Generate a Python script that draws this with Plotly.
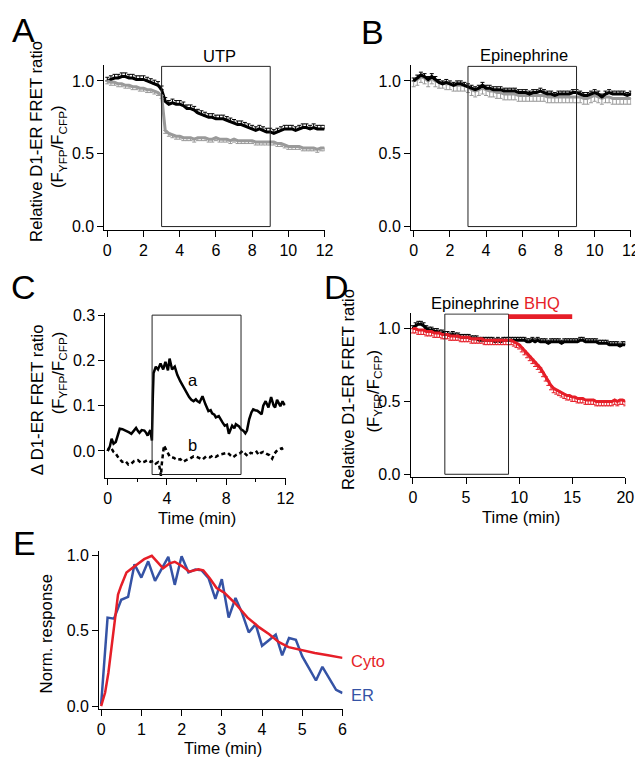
import plotly.graph_objects as go

W, H = 643, 757
FONT = "Liberation Sans, Arial, Helvetica, sans-serif"
RED = "#e61e28"
BLUE = "#3553a5"
GRAY = "#9a9a9a"

# ---------------- data ----------------
# Panel A (UTP), sampled every 0.2 min
A_TIME = [round(i * 0.2, 1) for i in range(61)]
A_BLACK = [1.00, 1.01, 1.02, 1.02, 1.03, 1.03, 1.02, 1.02, 1.01, 1.01,
           1.01, 1.00, 0.99, 0.98, 0.97, 0.94, 0.86, 0.84, 0.85, 0.84,
           0.84, 0.83, 0.81, 0.81, 0.80, 0.78, 0.77, 0.76, 0.75, 0.75,
           0.74, 0.74, 0.74, 0.73, 0.72, 0.71, 0.70, 0.70, 0.69, 0.68,
           0.67, 0.66, 0.67, 0.66, 0.65, 0.65, 0.64, 0.65, 0.66, 0.67,
           0.67, 0.67, 0.66, 0.67, 0.68, 0.68, 0.67, 0.68, 0.67, 0.67,
           0.67]
A_GRAY = [1.00, 0.99, 0.99, 0.98, 0.98, 0.97, 0.97, 0.96, 0.96, 0.95,
          0.95, 0.94, 0.94, 0.93, 0.92, 0.90, 0.66, 0.64, 0.63, 0.62,
          0.62, 0.61, 0.61, 0.61, 0.60, 0.61, 0.61, 0.61, 0.60, 0.60,
          0.61, 0.60, 0.60, 0.60, 0.59, 0.60, 0.59, 0.59, 0.59, 0.59,
          0.59, 0.58, 0.58, 0.58, 0.58, 0.58, 0.58, 0.57, 0.57, 0.56,
          0.55, 0.55, 0.55, 0.55, 0.54, 0.54, 0.54, 0.54, 0.53, 0.54,
          0.54]
A_BLACK_ERR = 0.025
A_GRAY_ERR = 0.02

# Panel B (Epinephrine), sampled every 0.2 min
B_TIME = [round(i * 0.2, 1) for i in range(61)]
B_BLACK = [1.00, 1.02, 1.04, 1.03, 1.01, 1.03, 1.01, 0.99, 0.98, 0.99,
           0.98, 0.97, 0.98, 0.98, 0.97, 0.96, 0.95, 0.94, 0.95, 0.97,
           0.95, 0.95, 0.94, 0.94, 0.94, 0.93, 0.93, 0.93, 0.93, 0.92,
           0.92, 0.92, 0.91, 0.92, 0.92, 0.93, 0.92, 0.91, 0.91, 0.90,
           0.91, 0.91, 0.91, 0.91, 0.92, 0.92, 0.91, 0.90, 0.90, 0.91,
           0.92, 0.91, 0.89, 0.91, 0.92, 0.91, 0.91, 0.91, 0.91, 0.90,
           0.91]
B_GRAY = [1.00, 1.01, 1.03, 1.02, 1.00, 1.02, 1.00, 0.99, 0.99, 0.98,
          0.98, 0.97, 0.97, 0.97, 0.97, 0.96, 0.94, 0.93, 0.94, 0.95,
          0.94, 0.93, 0.93, 0.92, 0.92, 0.91, 0.91, 0.91, 0.91, 0.90,
          0.90, 0.90, 0.90, 0.90, 0.90, 0.90, 0.90, 0.89, 0.89, 0.89,
          0.89, 0.89, 0.89, 0.89, 0.89, 0.89, 0.89, 0.88, 0.88, 0.89,
          0.90, 0.89, 0.88, 0.89, 0.89, 0.88, 0.88, 0.88, 0.88, 0.88,
          0.88]
B_BLACK_ERR = 0.02
B_GRAY_ERR = 0.04

# Panel C (delta FRET traces a and b)
C_A_TIME = [0, 0.15, 0.27, 0.4, 0.55, 0.7, 0.82, 1.0, 1.15, 1.3, 1.45, 1.6, 1.75,
            1.92, 2.05, 2.15, 2.3, 2.48, 2.6, 2.7, 2.88, 2.99, 3.05, 3.1, 3.25,
            3.4, 3.57, 3.75, 3.9, 4.07, 4.18, 4.35, 4.53, 4.7, 4.9, 5.05, 5.2,
            5.35, 5.5, 5.65, 5.8, 5.95, 6.05, 6.2, 6.4, 6.6, 6.8, 6.95, 7.05,
            7.2, 7.3, 7.5, 7.6, 7.75, 7.9, 8.05, 8.18, 8.3, 8.4, 8.55, 8.65,
            8.87, 9.0, 9.15, 9.29, 9.4, 9.55, 9.7, 9.82, 9.95, 10.1, 10.25,
            10.39, 10.5, 10.66, 10.85, 11.03, 11.2, 11.3, 11.43, 11.55, 11.65,
            11.8, 11.9, 12.0]
C_A_VAL = [0.0, 0.01, 0.027, 0.016, 0.02, 0.04, 0.049, 0.048, 0.046, 0.044,
           0.041, 0.038, 0.045, 0.051, 0.044, 0.04, 0.046, 0.045, 0.04, 0.034,
           0.046, 0.023, 0.12, 0.172, 0.186, 0.18, 0.193, 0.18, 0.197, 0.178,
           0.204, 0.18, 0.186, 0.168, 0.154, 0.145, 0.135, 0.126, 0.119, 0.113,
           0.11, 0.114, 0.11, 0.107, 0.121, 0.103, 0.088, 0.09, 0.083, 0.08,
           0.074, 0.077, 0.07, 0.063, 0.056, 0.058, 0.038, 0.05, 0.056, 0.05,
           0.059, 0.054, 0.048, 0.045, 0.039, 0.045, 0.07, 0.085, 0.092, 0.09,
           0.089, 0.085, 0.081, 0.1, 0.11, 0.096, 0.119, 0.1, 0.096, 0.113,
           0.105, 0.099, 0.11, 0.103, 0.104]
C_B_TIME = [0, 0.12, 0.25, 0.4, 0.55, 0.75, 0.99, 1.2, 1.4, 1.6, 1.8, 2.04, 2.25,
            2.48, 2.7, 2.9, 3.1, 3.25, 3.4, 3.5, 3.6, 3.65, 3.8, 3.9, 4.0, 4.2,
            4.45, 4.7, 4.9, 5.1, 5.3, 5.55, 5.8, 6.0, 6.2, 6.4, 6.65, 6.9, 7.1,
            7.3, 7.55, 7.8, 8.1, 8.3, 8.45, 8.7, 8.9, 9.1, 9.25, 9.44, 9.65,
            9.88, 10.05, 10.2, 10.35, 10.5, 10.7, 10.9, 11.1, 11.25, 11.4,
            11.55, 11.75, 11.85, 11.95]
C_B_VAL = [0.0, 0.008, 0.006, -0.002, -0.006, -0.016, -0.024, -0.022, -0.03,
           -0.028, -0.022, -0.02, -0.026, -0.024, -0.02, -0.024, -0.022, -0.028,
           -0.025, -0.035, -0.055, -0.03, 0.012, 0.005, 0.001, -0.013, -0.015,
           -0.02, -0.018, -0.024, -0.02, -0.017, -0.012, -0.013, -0.016, -0.019,
           -0.012, -0.014, -0.01, -0.013, -0.008, -0.006, -0.004, -0.01, -0.014,
           -0.008, -0.006, 0.0, -0.006, -0.011, -0.004, -0.006, -0.002, -0.009,
           -0.004, -0.002, -0.006, -0.009, -0.017, -0.006, 0.0, 0.004, 0.006,
           0.0, 0.002]

# Panel D (Epinephrine then BHQ), sampled every 0.25 min
D_TIME = [i * 0.25 for i in range(81)]
D_BLACK = [1.00, 1.02, 1.03, 1.03, 1.02, 1.00, 0.99, 0.99, 0.98, 0.98,
           0.97, 0.97, 0.96, 0.96, 0.95, 0.96, 0.95, 0.95, 0.94, 0.94,
           0.94, 0.94, 0.93, 0.93, 0.93, 0.92, 0.92, 0.92, 0.92, 0.92,
           0.92, 0.91, 0.92, 0.91, 0.92, 0.92, 0.92, 0.92, 0.92, 0.92,
           0.92, 0.92, 0.92, 0.91, 0.91, 0.92, 0.91, 0.92, 0.91, 0.91,
           0.91, 0.90, 0.91, 0.91, 0.91, 0.91, 0.90, 0.91, 0.91, 0.91,
           0.91, 0.91, 0.91, 0.92, 0.92, 0.91, 0.91, 0.91, 0.91, 0.91,
           0.90, 0.90, 0.90, 0.90, 0.89, 0.89, 0.89, 0.89, 0.88, 0.89,
           0.89]
D_RED = [1.00, 1.00, 0.99, 0.99, 0.99, 0.98, 0.98, 0.98, 0.97, 0.97,
         0.97, 0.96, 0.96, 0.96, 0.95, 0.95, 0.95, 0.95, 0.94, 0.94,
         0.94, 0.94, 0.93, 0.93, 0.93, 0.93, 0.93, 0.92, 0.92, 0.92,
         0.92, 0.92, 0.92, 0.92, 0.92, 0.92, 0.92, 0.92, 0.91, 0.90,
         0.89, 0.87, 0.85, 0.83, 0.81, 0.79, 0.77, 0.75, 0.73, 0.70,
         0.67, 0.64, 0.61, 0.59, 0.58, 0.57, 0.56, 0.55, 0.54, 0.54,
         0.53, 0.53, 0.52, 0.52, 0.52, 0.51, 0.51, 0.51, 0.51, 0.50,
         0.50, 0.50, 0.50, 0.50, 0.50, 0.50, 0.51, 0.50, 0.51, 0.51,
         0.50]
D_BLACK_ERR = 0.02
D_RED_ERR = 0.03
BHQ_START, BHQ_END = 9, 15

# Panel E (normalized responses)
ER_TIME = [0, 0.16, 0.32, 0.5, 0.67, 0.83, 1.0, 1.17, 1.34, 1.5, 1.67, 1.83, 2.0,
           2.17, 2.34, 2.5, 2.67, 2.84, 3.0, 3.17, 3.34, 3.5, 3.67, 3.84, 4.0,
           4.17, 4.34, 4.5, 4.67, 4.84, 5.0, 5.17, 5.34, 5.5, 5.67, 5.84, 6.0]
ER_VAL = [0.01, 0.587, 0.58, 0.705, 0.724, 0.94, 0.852, 0.96, 0.83, 0.91, 0.99,
          0.804, 0.993, 0.887, 0.905, 0.90, 0.848, 0.711, 0.841, 0.587, 0.717,
          0.62, 0.489, 0.543, 0.40, 0.437, 0.474, 0.337, 0.452, 0.44, 0.33,
          0.25, 0.17, 0.261, 0.185, 0.108, 0.087]
CYTO_TIME = [0, 0.1, 0.18, 0.26, 0.34, 0.42, 0.5, 0.63, 0.75, 0.87, 1.07, 1.26,
             1.4, 1.54, 1.7, 1.83, 2.01, 2.19, 2.42, 2.54, 2.7, 2.87, 3.07, 3.32,
             3.64, 3.93, 4.17, 4.42, 4.66, 4.99, 5.31, 5.64, 6.0]
CYTO_VAL = [0.0, 0.09, 0.22, 0.40, 0.57, 0.74, 0.80, 0.885, 0.91, 0.935, 0.974,
            0.996, 0.957, 0.913, 0.946, 0.957, 0.928, 0.891, 0.907, 0.90, 0.848,
            0.783, 0.75, 0.685, 0.587, 0.522, 0.478, 0.424, 0.391, 0.369, 0.352,
            0.337, 0.32]

# ---------------- helpers ----------------
def xdom(x0, x1):
    return [x0 / W, x1 / W]


def ydom(y0, y1):
    return [1 - y1 / H, 1 - y0 / H]


def px(x):
    return x / W


def py(y):
    return 1 - y / H


def axis(domain, rng, tickvals, anchor, ticktext=None, minor=None):
    d = dict(domain=domain, range=rng, anchor=anchor, showline=True,
             linecolor="black", linewidth=1, ticks="outside", ticklen=6,
             tickwidth=1, tickcolor="black", showgrid=False, zeroline=False,
             tickvals=tickvals, tickfont=dict(family=FONT, size=16, color="black"),
             fixedrange=True)
    if ticktext is not None:
        d["ticktext"] = ticktext
    if minor is not None:
        d["minor"] = dict(tickvals=minor, ticklen=3, tickwidth=1,
                          tickcolor="black", ticks="outside", showgrid=False)
    return d


fig = go.Figure()


def series(x, y, color, xa, ya, width=2.5, err=None, up=True, dash=None):
    kw = {}
    if err is not None:
        kw["error_y"] = dict(type="constant", symmetric=False,
                             value=err if up else 0,
                             valueminus=0 if up else err,
                             color=color, thickness=1, width=2)
    fig.add_trace(go.Scatter(x=x, y=y, mode="lines", xaxis=xa, yaxis=ya,
                             line=dict(color=color, width=width, dash=dash),
                             hoverinfo="skip", **kw))


# A
series(A_TIME, A_BLACK, "black", "x", "y", width=3, err=A_BLACK_ERR, up=True)
series(A_TIME, A_GRAY, GRAY, "x", "y", width=3, err=A_GRAY_ERR, up=False)
# B
series(B_TIME, B_GRAY, GRAY, "x2", "y2", width=3, err=B_GRAY_ERR, up=False)
series(B_TIME, B_BLACK, "black", "x2", "y2", width=3, err=B_BLACK_ERR, up=True)
# C
series(C_A_TIME, C_A_VAL, "black", "x3", "y3", width=2.5)
series(C_B_TIME, C_B_VAL, "black", "x3", "y3", width=2.5, dash="4px,3px")
# D
series(D_TIME, D_BLACK, "black", "x4", "y4", width=3, err=D_BLACK_ERR, up=True)
series(D_TIME, D_RED, RED, "x4", "y4", width=3, err=D_RED_ERR, up=False)
# E
series(ER_TIME, ER_VAL, BLUE, "x5", "y5", width=2.5)
series(CYTO_TIME, CYTO_VAL, RED, "x5", "y5", width=2.5)

layout = dict(
    width=W, height=H, autosize=False, showlegend=False,
    margin=dict(l=0, r=0, t=0, b=0, pad=0),
    paper_bgcolor="white", plot_bgcolor="white",
    font=dict(family=FONT, size=16, color="black"),
    xaxis=axis(xdom(96, 320), [-0.163, 12.0], [0, 2, 4, 6, 8, 10, 12], "y"),
    yaxis=axis(ydom(52, 219), [-0.0203, 1.108], [0, 0.5, 1.0], "x",
               ticktext=["0.0", "0.5", "1.0"]),
    xaxis2=axis(xdom(408, 632), [-0.147, 12.02], [0, 2, 4, 6, 8, 10, 12], "y2"),
    yaxis2=axis(ydom(52, 219), [-0.0203, 1.108], [0, 0.5, 1.0], "x2",
                ticktext=["0.0", "0.5", "1.0"]),
    xaxis3=axis(xdom(97, 280.3), [-0.153, 12.0], [0, 4, 8, 12], "y3",
                minor=[2, 6, 10]),
    yaxis3=axis(ydom(304, 471.7), [-0.0602, 0.3043], [0, 0.1, 0.2, 0.3], "x3",
                ticktext=["0.0", "0.1", "0.2", "0.3"]),
    xaxis4=axis(xdom(407.7, 626), [-0.213, 20.0], [0, 5, 10, 15, 20], "y4"),
    yaxis4=axis(ydom(304, 470.3), [-0.0176, 1.106], [0, 0.5, 1.0], "x4",
                ticktext=["0.0", "0.5", "1.0"]),
    xaxis5=axis(xdom(90.7, 338.3), [-0.049, 6.0], [0, 1, 2, 3, 4, 5, 6], "y5"),
    yaxis5=axis(ydom(546, 706), [-0.0176, 1.026], [0, 0.5, 1.0], "x5",
                ticktext=["0.0", "0.5", "1.0"]),
)
fig.update_layout(**layout)

# stimulus boxes
shapes = []
for xr, yr, y0, y1 in [("x", "y", 0, 1.1), ("x2", "y2", 0, 1.1),
                       ("x3", "y3", -0.052, 0.3), ("x4", "y4", 0, 1.1)]:
    shapes.append(dict(type="rect", xref=xr, yref=yr, x0=3, x1=9, y0=y0, y1=y1,
                       line=dict(color="#222222", width=1), fillcolor="rgba(0,0,0,0)",
                       layer="above"))
shapes.append(dict(type="rect", xref="x4", yref="y4", x0=BHQ_START, x1=BHQ_END,
                   y0=1.066, y1=1.098, line=dict(width=0), fillcolor=RED,
                   layer="above"))
fig.update_layout(shapes=shapes)

ann = []


def text(x, y, s, size=16.5, color="black", angle=0, xanchor="center"):
    ann.append(dict(x=px(x), y=py(y), xref="paper", yref="paper", text=s,
                    showarrow=False, textangle=angle, xanchor=xanchor,
                    yanchor="middle",
                    font=dict(family=FONT, size=size, color=color)))


SUBLINE = "(F<sub>YFP</sub>/F<sub>CFP</sub>)"
# panel letters
text(14, 16, "A", size=34)
text(369, 18, "B", size=34)
text(14, 277, "C", size=34)
text(332, 277, "D", size=34)
text(15, 538, "E", size=34)
# y titles
text(27.5, 130, "Relative D1-ER FRET ratio", size=16.8, angle=-90)
text(50, 135, SUBLINE, size=16.8, angle=-90)
text(28, 392, "Δ D1-ER FRET ratio", size=16.8, angle=-90)
text(50, 365, SUBLINE, size=16.8, angle=-90)
text(345, 382, "Relative D1-ER FRET ratio", size=16.8, angle=-90)
text(371, 383, SUBLINE, size=16.8, angle=-90)
text(37, 630, "Norm. response", size=16.8, angle=-90)
# x titles
text(190, 512, "Time (min)")
text(520, 511, "Time (min)")
text(217, 746, "Time (min)")
# labels
text(213, 43, "UTP")
text(523, 42, "Epinephrine")
text(473, 294, "Epinephrine")
text(541, 294, "BHQ", color=RED)
text(186, 372, "a")
text(186, 438, "b")
text(345, 657, "Cyto", color=RED, xanchor="left")
text(345, 692, "ER", color=BLUE, xanchor="left")
fig.update_layout(annotations=ann)

fig.write_html("out.html")
